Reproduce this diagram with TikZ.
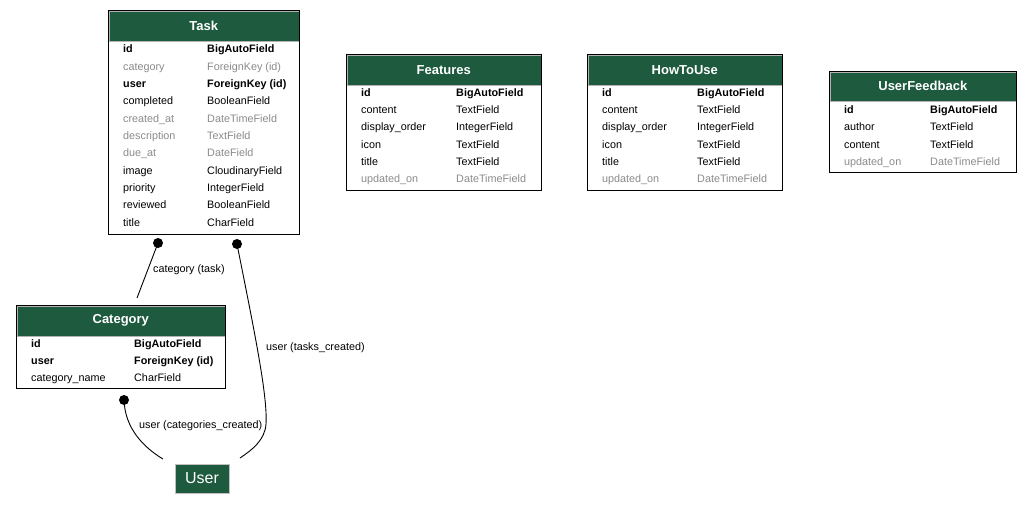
\documentclass[tikz,border=0pt]{standalone}
\usepackage{fontspec}
\setmainfont{Liberation Sans}
\begin{document}
\begin{tikzpicture}[x=1pt,y=-1pt,
  tbl/.style={draw=black, line width=1.2pt, anchor=north west, inner sep=0pt},
  hdr/.style={fill=hgreen, draw=gray!60, line width=0.6pt, anchor=north west, inner sep=0pt},
  htxt/.style={text=white, font=\fontsize{13}{15}\selectfont\bfseries},
  fb/.style={anchor=base west, inner sep=0pt, font=\fontsize{10.8}{12}\selectfont\bfseries, text=black},
  fn/.style={anchor=base west, inner sep=0pt, font=\fontsize{10.8}{12}\selectfont, text=black},
  fg/.style={anchor=base west, inner sep=0pt, font=\fontsize{10.8}{12}\selectfont, text=fgray},
  lbl/.style={anchor=base west, inner sep=0pt, font=\fontsize{10.8}{12}\selectfont},
  conn/.style={line width=0.9pt},
  dot/.style={circle, fill=black, inner sep=0pt, minimum size=10pt}
]
\definecolor{hgreen}{HTML}{1D5A3E}
\definecolor{fgray}{HTML}{8A8A8A}
\useasboundingbox (0,0) rectangle (1031,509);

% ---- Task ----
\node[tbl, minimum width=191pt, minimum height=224pt] (task) at (108,10) {};
\node[hdr, minimum width=190pt, minimum height=30pt] (taskh) at (108.5,10.5) {};
\node[htxt] (taskt) at (taskh.center) {Task};
\foreach \y/\a/\b/\s [count=\i] in {
  52/id/BigAutoField/fb,
  70/category/ForeignKey (id)/fg,
  87/user/ForeignKey (id)/fb,
  104/completed/BooleanField/fn,
  122/created\_at/DateTimeField/fg,
  139/description/TextField/fg,
  156/due\_at/DateField/fg,
  174/image/CloudinaryField/fn,
  191/priority/IntegerField/fn,
  208/reviewed/BooleanField/fn,
  226/title/CharField/fn}{
  \node[\s] (taskA\i) at (123,\y) {\a};
  \node[\s] (taskB\i) at (207,\y) {\b};
}
\node[tbl, minimum width=191pt, minimum height=224pt] at (108,10) {};

% ---- Features ----
\node[tbl, minimum width=195pt, minimum height=136pt] (feat) at (346,54) {};
\node[hdr, minimum width=194pt, minimum height=30pt] (feath) at (346.5,54.5) {};
\node[htxt] (featt) at (feath.center) {Features};
\foreach \y/\a/\b/\s [count=\i] in {
  96/id/BigAutoField/fb,
  113/content/TextField/fn,
  130/display\_order/IntegerField/fn,
  148/icon/TextField/fn,
  165/title/TextField/fn,
  182/updated\_on/DateTimeField/fg}{
  \node[\s] (featA\i) at (361,\y) {\a};
  \node[\s] (featB\i) at (456,\y) {\b};
}
\node[tbl, minimum width=195pt, minimum height=136pt] at (346,54) {};

% ---- HowToUse ----
\node[tbl, minimum width=195pt, minimum height=136pt] (how) at (587,54) {};
\node[hdr, minimum width=194pt, minimum height=30pt] (howh) at (587.5,54.5) {};
\node[htxt] (howt) at (howh.center) {HowToUse};
\foreach \y/\a/\b/\s [count=\i] in {
  96/id/BigAutoField/fb,
  113/content/TextField/fn,
  130/display\_order/IntegerField/fn,
  148/icon/TextField/fn,
  165/title/TextField/fn,
  182/updated\_on/DateTimeField/fg}{
  \node[\s] (howA\i) at (602,\y) {\a};
  \node[\s] (howB\i) at (697,\y) {\b};
}
\node[tbl, minimum width=195pt, minimum height=136pt] at (587,54) {};

% ---- UserFeedback ----
\node[tbl, minimum width=187pt, minimum height=101pt] (ufb) at (829,71) {};
\node[hdr, minimum width=186pt, minimum height=29pt] (ufbh) at (829.5,71.5) {};
\node[htxt] (ufbt) at (ufbh.center) {UserFeedback};
\foreach \y/\a/\b/\s [count=\i] in {
  113/id/BigAutoField/fb,
  130/author/TextField/fn,
  148/content/TextField/fn,
  165/updated\_on/DateTimeField/fg}{
  \node[\s] (ufbA\i) at (844,\y) {\a};
  \node[\s] (ufbB\i) at (930,\y) {\b};
}
\node[tbl, minimum width=187pt, minimum height=101pt] at (829,71) {};

% ---- Category ----
\node[tbl, minimum width=209pt, minimum height=83pt] (cat) at (16,305) {};
\node[hdr, minimum width=208pt, minimum height=30pt] (cath) at (16.5,305.5) {};
\node[htxt] (catt) at (cath.center) {Category};
\foreach \y/\a/\b/\s [count=\i] in {
  347/id/BigAutoField/fb,
  364/user/ForeignKey (id)/fb,
  381/category\_name/CharField/fn}{
  \node[\s] (catA\i) at (31,\y) {\a};
  \node[\s] (catB\i) at (134,\y) {\b};
}
\node[tbl, minimum width=209pt, minimum height=83pt] at (16,305) {};

% ---- User ----
\node[fill=hgreen, draw=gray!50, line width=0.5pt, minimum width=54pt, minimum height=29pt, inner sep=0pt,
  text=white, font=\fontsize{16}{18}\selectfont] (user) at (202,478.5) {User};

% ---- connectors ----
\node[dot] (d1) at (158,243) {};
\node[dot] (d2) at (237,244) {};
\node[dot] (d3) at (124,400) {};
\coordinate (c1) at (137,298);
\coordinate (u1) at (163,459);
\coordinate (u2) at (240,458);
\coordinate (m2) at (266,424);

\draw[conn] (d1.center) -- (c1);
\node[lbl] (l1) at (153,272) {category (task)};

\draw[conn] (d2.center) .. controls (252,320) and (268,395) .. (m2)
  .. controls (265,440) and (252,450) .. (u2);
\node[lbl] (l2) at (266,350) {user (tasks\_created)};

\draw[conn] (d3.center) .. controls (125,428) and (143,447) .. (u1);
\node[lbl] (l3) at (139,428) {user (categories\_created)};
\end{tikzpicture}
\end{document}
